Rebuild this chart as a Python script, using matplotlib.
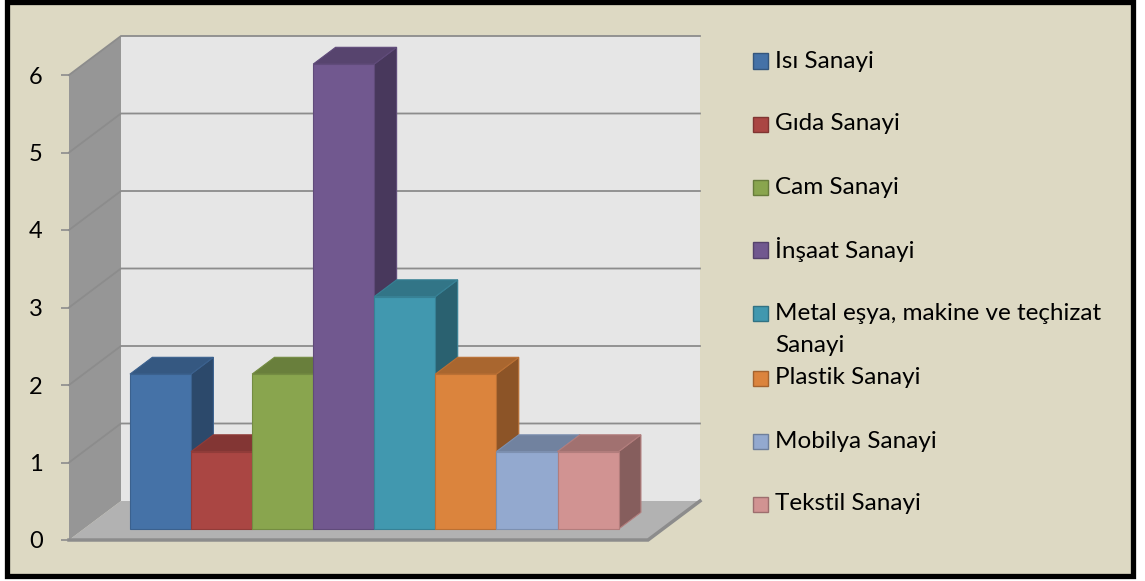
import matplotlib.pyplot as plt
import matplotlib.patches as patches
from matplotlib.colors import to_rgb

plt.rcParams['font.family'] = ['Lato', 'DejaVu Sans']

categories = ['Isı Sanayi', 'Gıda Sanayi', 'Cam Sanayi', 'İnşaat Sanayi',
              'Metal eşya, makine ve teçhizat\nSanayi', 'Plastik Sanayi',
              'Mobilya Sanayi', 'Tekstil Sanayi']
values = [2, 1, 2, 6, 3, 2, 1, 1]
colors = ['#4572A7', '#AA4643', '#89A54E', '#71588F',
          '#4198AF', '#DB843D', '#93A9CF', '#D19392']
y_ticks = [0, 1, 2, 3, 4, 5, 6]

W, H = 1145, 581
fig = plt.figure(figsize=(W / 100, H / 100), dpi=100)
fig.patch.set_facecolor('white')

def fr(x, y):
    # pixel position -> figure fraction
    return x / W, 1 - y / H

# outer frame, kept behind the axes
frame = patches.Rectangle(fr(6.5, 576), 1126 / W, 574.5 / H, transform=fig.transFigure,
                          facecolor='#DDD9C3', edgecolor='black', lw=3.8, zorder=-10)
fig.patches.append(frame)

# front plane of the 3d box
left, right, top, bottom = 69, 648, 75, 540
ax = fig.add_axes([left / W, 1 - bottom / H, (right - left) / W, (bottom - top) / H])
ax.set_xlim(-0.76, 8.72)
ax.set_ylim(0, 6)
ax.patch.set_visible(False)
for s in ax.spines.values():
    s.set_visible(False)
ax.set_xticks([])
ax.set_yticks(y_ticks)
ax.tick_params(axis='y', length=6, width=1.2, color='#8C8C8C', pad=13,
               labelsize=17, labelcolor='black')

x_lo, x_hi = ax.get_xlim()
DX = 52 / 61.1   # depth shift, in category units
DY = 39 / 77.5   # depth shift, in value units

def P(x, v, d):
    return (x + DX * d, v + DY * d)

def shade(c, k):
    r, g, b = to_rgb(c)
    return (r * k, g * k, b * k)

def poly(pts, fc, ec='none', lw=0, z=1):
    p = patches.Polygon(pts, closed=True, facecolor=fc, edgecolor=ec, lw=lw,
                        clip_on=False, zorder=z, joinstyle='miter')
    ax.add_patch(p)

ymax = y_ticks[-1]
# back wall
poly([P(x_lo, 0, 1), P(x_hi, 0, 1), P(x_hi, ymax, 1), P(x_lo, ymax, 1)], '#E6E6E6', z=1)
# left wall
poly([P(x_lo, 0, 0), P(x_lo, 0, 1), P(x_lo, ymax, 1), P(x_lo, ymax, 0)], '#969696', z=1)

# gridlines on both walls
for t in y_ticks[1:]:
    a, b = P(x_lo, t, 0), P(x_lo, t, 1)
    c = P(x_hi, t, 1)
    ax.plot([a[0], b[0], c[0]], [a[1], b[1], c[1]], color='#8C8C8C', lw=1.3,
            clip_on=False, zorder=2, solid_joinstyle='miter')

# floor
poly([P(x_lo, 0, 0), P(x_hi, 0, 0), P(x_hi, 0, 1), P(x_lo, 0, 1)], '#B2B2B2', z=3)
f0, f1, f2 = P(x_lo, 0, 0), P(x_hi, 0, 0), P(x_hi, 0, 1)
ax.plot([f0[0], f1[0], f2[0]], [f0[1], f1[1], f2[1]], color='#8C8C8C', lw=2.5,
        clip_on=False, zorder=3, solid_joinstyle='miter')

# bars, drawn left to right so each one covers the side of the previous one
d0, d1 = 0.28, 0.71
for i, (v, c) in enumerate(zip(values, colors)):
    x0, x1 = i, i + 1
    ec = shade(c, 0.85)
    z = 4 + i
    poly([P(x1, 0, d0), P(x1, 0, d1), P(x1, v, d1), P(x1, v, d0)], shade(c, 0.64), ec, 0.8, z)
    poly([P(x0, v, d0), P(x1, v, d0), P(x1, v, d1), P(x0, v, d1)], shade(c, 0.77), ec, 0.8, z)
    poly([P(x0, 0, d0), P(x1, 0, d0), P(x1, v, d0), P(x0, v, d0)], c, ec, 0.8, z)

# legend
sq = 15
for i, (lab, c) in enumerate(zip(categories, colors)):
    yc = 61 + 63 * i + (2 if i > 4 else 0)
    fig.patches.append(patches.Rectangle(fr(753, yc + sq / 2), sq / W, sq / H,
                                         transform=fig.transFigure, facecolor=c,
                                         edgecolor=shade(c, 0.75), lw=1))
    if '\n' in lab:
        first, second = lab.split('\n')
        fig.text(*fr(775, yc), first, fontsize=17.5, va='center', ha='left')
        fig.text(*fr(775, yc + 33), second, fontsize=17.5, va='center', ha='left')
    else:
        fig.text(*fr(775, yc), lab, fontsize=17.5, va='center', ha='left')

fig.savefig('out.png', dpi=100)
